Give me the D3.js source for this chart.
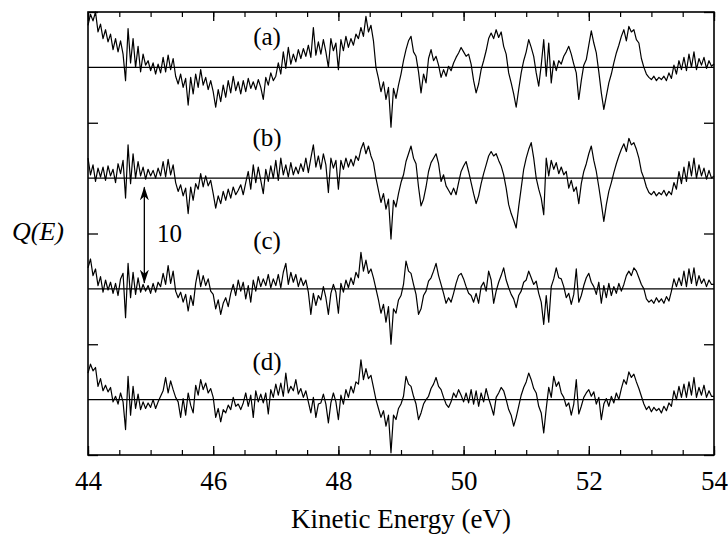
<!DOCTYPE html>
<html><head><meta charset="utf-8">
<script src="https://cdn.jsdelivr.net/npm/d3@7"></script>
<style>
body{margin:0;background:#fff}
svg{display:block}
svg text{font-family:"Liberation Serif","Times New Roman",Tinos,Times;fill:#000}
</style>
</head><body>
<svg id="chart" width="728" height="535"></svg>
<script>
// Energy grid: 44.00 .. 54.00 eV in 0.04 eV steps (251 samples); one row = 1 eV
const energyStart = 44, energyStep = 0.04;
const traceA = [
3.8,4.8,4.2,5.0,3.2,3.9,2.6,3.4,2.3,3.0,1.6,2.6,1.4,2.4,1.2,-1.2,3.5,0.4,2.6,0.0,1.9,-0.4,1.2,0.2,0.6,
-0.3,0.4,-0.6,0.3,-0.5,0.9,-0.4,1.1,-0.2,0.8,-0.8,-1.5,-0.6,-1.8,-1.0,-3.4,-0.9,-2.4,-0.6,-1.8,-0.2,-1.6,-0.9,-2.0,-1.2,
-2.2,-3.6,-2.0,-3.1,-1.6,-2.7,-1.2,-2.3,-0.8,-2.1,-1.3,-2.4,-1.2,-2.2,-1.0,-1.9,-1.3,-2.0,-1.1,-1.8,-2.9,-0.9,-1.6,-0.5,-1.2,
-0.8,0.4,-0.6,1.4,-0.1,1.8,0.3,1.2,0.5,1.6,0.8,1.7,1.0,2.0,0.9,3.6,1.1,2.3,1.2,2.5,1.4,0.0,2.6,1.5,2.2,
-0.2,2.5,1.5,2.8,1.8,2.6,2.0,3.0,2.6,3.6,2.8,4.6,3.2,3.8,2.4,0.0,-1.0,-2.2,-1.3,-2.9,-1.8,-5.4,-1.9,-2.8,-1.6,
-0.6,0.6,1.6,2.4,2.8,1.4,1.0,-0.4,-2.3,-0.6,-1.4,0.8,1.6,0.6,1.0,0.2,-0.9,-0.2,-0.8,0.1,-0.3,0.4,0.9,1.3,1.8,
1.4,1.0,1.2,0.3,-1.2,-2.3,-1.5,-0.2,0.6,1.5,2.6,3.1,2.6,3.4,2.7,3.2,1.9,1.2,-0.5,-1.4,-2.4,-3.6,-2.0,-0.5,0.6,
1.4,2.5,1.8,1.0,-0.5,-1.7,0.2,2.5,-0.8,2.2,-1.4,0.6,-0.3,0.6,0.3,1.0,1.4,1.9,1.2,0.3,-0.5,-2.9,-1.2,0.2,0.7,
2.0,3.3,2.2,1.3,-0.4,-2.3,-3.8,-2.6,-1.4,-0.6,0.4,1.3,2.0,2.8,3.4,2.4,3.7,3.2,3.4,2.5,2.2,0.8,0.0,-0.6,-0.9,
-1.1,-0.8,-1.2,-0.9,-1.1,-0.8,-1.2,-0.5,-1.0,0.2,-0.6,0.6,-0.2,0.9,-0.3,1.2,0.0,1.4,-0.2,0.8,0.2,0.9,-0.1,0.6,0.1,
0.3];
const traceB = [
1.8,0.3,1.2,-0.3,0.9,0.1,1.0,-0.2,1.1,0.2,0.8,-0.4,1.3,0.4,1.6,-1.8,3.0,-0.5,2.2,0.0,1.5,0.2,1.0,-0.1,0.8,
0.2,0.7,0.0,0.9,0.2,1.5,0.1,1.7,0.3,1.2,-0.4,-1.2,-0.6,-1.6,-0.9,-3.2,-0.8,-2.0,-0.5,-1.0,0.4,-0.8,0.2,-0.7,-0.2,
-1.4,-2.7,-1.6,-2.3,-1.2,-2.0,-1.0,-1.8,-0.8,-1.5,-1.1,-0.6,-1.5,-0.4,0.6,-1.0,1.2,-0.4,1.0,-0.2,-1.4,0.8,-0.3,1.1,0.0,
1.6,-0.2,1.8,0.3,1.2,0.1,1.4,0.3,1.0,0.4,1.3,0.6,1.8,0.5,1.8,3.0,1.0,2.0,0.8,2.2,1.2,-1.3,1.8,0.9,1.6,
-1.0,1.6,0.8,1.8,1.0,1.7,1.1,2.0,1.6,2.6,3.2,2.2,2.9,2.0,1.4,0.0,-1.1,-2.2,-1.4,-2.8,-1.9,-5.5,-2.0,-2.6,-1.4,
-0.4,0.3,1.5,2.2,2.9,1.8,1.3,-0.8,-2.5,-1.9,-0.8,0.6,1.4,1.8,2.2,1.3,-0.3,0.3,-0.7,-1.1,-1.5,-0.9,-1.5,-0.4,0.6,
1.1,1.5,0.6,-0.4,-1.4,-2.3,-1.6,-0.5,0.4,1.2,2.0,2.4,2.0,2.2,1.6,1.1,0.3,-0.9,-2.4,-3.2,-3.8,-4.5,-2.6,-0.9,0.8,
1.8,2.6,3.2,1.8,0.0,-1.0,-1.8,-3.3,1.8,0.2,1.6,0.8,1.4,0.4,1.0,0.3,0.6,-0.9,-0.2,-1.2,-0.8,-2.3,-0.5,0.6,1.3,
2.2,2.9,1.6,0.6,-0.8,-2.3,-3.9,-2.4,-1.2,-0.4,0.5,1.3,2.0,2.6,3.1,2.4,3.6,3.0,3.2,2.6,1.8,0.6,0.0,-0.8,-1.3,
-1.5,-1.2,-1.6,-1.3,-1.5,-1.1,-1.6,-1.2,-1.5,-0.4,-1.0,0.6,-0.5,1.0,-0.3,1.5,0.2,1.8,0.0,1.2,0.2,0.9,-0.1,0.7,0.0,
0.2];
const traceC = [
1.9,2.7,1.2,1.8,0.3,1.1,-0.3,0.8,-0.1,0.6,-0.4,0.5,-0.6,0.9,1.4,-2.6,2.3,-0.8,1.5,-0.5,1.0,-0.3,0.4,-0.2,0.3,
-0.4,0.5,-0.3,0.6,0.2,1.4,0.4,2.1,0.5,1.6,-0.2,-0.8,-0.3,-1.2,-0.5,-2.0,-0.6,-1.5,0.5,1.7,0.2,1.2,0.3,0.9,-0.2,
-0.5,-1.8,-1.0,-2.3,-1.3,-0.8,-1.6,-0.4,0.4,-0.6,0.8,-0.2,0.6,-0.9,0.3,-1.2,0.8,-0.2,1.1,0.2,0.9,0.3,1.3,0.1,0.9,
0.3,1.3,0.1,1.5,2.3,0.4,1.5,0.6,1.3,0.2,1.0,0.3,0.8,-0.3,-2.3,-0.4,-1.5,-0.6,-1.0,0.2,-0.8,-2.3,-0.4,0.4,-0.3,
-2.2,0.5,-0.3,0.8,0.1,1.0,0.4,1.5,1.0,3.3,1.6,2.6,1.4,1.8,1.0,0.0,-1.0,-2.2,-1.4,-3.0,-1.6,-5.0,-1.8,-2.2,-1.0,
-0.6,0.4,2.5,1.6,1.4,0.4,-0.5,-2.3,-1.8,-0.6,-0.2,0.7,1.0,1.6,2.3,1.2,0.4,-0.4,-1.3,-0.8,-1.2,-0.4,0.5,1.2,1.4,
0.9,0.2,-0.4,-0.6,-1.2,-0.4,-1.3,0.2,0.6,-0.2,1.6,0.8,-1.3,-0.2,0.6,1.2,1.9,0.8,0.1,-0.5,-0.9,-1.7,-0.6,-0.2,0.6,
0.8,1.6,1.0,0.4,0.7,-0.4,-1.2,-3.2,-0.6,-3.0,0.2,0.9,1.9,1.0,0.9,0.2,-0.8,-0.4,-1.4,-0.5,1.8,-1.2,-0.6,0.3,1.0,
1.4,0.6,0.2,-0.5,0.6,-1.3,0.3,-0.8,0.5,-0.6,0.2,-0.4,0.5,-0.2,0.4,1.2,1.6,1.2,1.9,1.6,1.0,0.4,0.0,-0.9,-1.2,
-1.0,-1.3,-0.8,-1.2,-0.9,-1.3,-0.7,-1.1,-0.2,0.9,0.2,1.0,0.3,1.6,0.2,1.8,0.5,1.9,0.3,1.2,0.5,0.9,0.2,0.8,0.4,
0.4];
const traceD = [
2.4,3.2,2.6,2.9,1.2,1.9,0.8,1.3,0.7,1.1,-0.2,0.3,-0.4,0.6,-0.2,-2.7,2.1,-1.4,1.2,-0.8,0.5,-0.9,-0.2,-0.8,-0.3,
-0.7,0.0,-0.8,-0.2,0.3,0.8,2.0,0.6,1.7,0.9,0.2,-0.2,-1.6,0.1,-1.4,0.6,-0.5,-1.2,1.3,0.4,1.8,0.9,1.5,0.6,1.0,
0.2,-1.6,-0.8,-2.0,-0.9,-1.2,-0.5,-0.9,0.2,-0.6,-0.4,-0.9,-0.3,0.6,-0.6,0.4,-1.6,0.8,-0.2,0.5,-0.3,0.6,-1.3,0.9,0.2,
1.4,0.4,1.5,0.3,2.4,0.6,1.2,0.8,1.8,0.5,1.0,0.2,0.8,-0.2,-1.2,0.2,-1.6,-0.4,-0.3,0.5,-0.4,-2.1,-0.3,0.6,-0.2,
-1.8,0.4,-0.4,0.9,0.2,1.2,0.6,1.6,1.4,3.6,1.8,2.8,1.9,2.2,1.1,0.0,-0.8,-1.6,-1.0,-2.4,-1.4,-4.8,-1.4,-1.8,-0.8,
-0.4,0.3,2.1,1.4,1.2,0.3,-0.4,-1.8,-1.2,-0.4,0.0,0.3,1.0,1.4,2.0,1.2,0.9,0.2,-0.4,-0.7,-0.2,0.6,0.2,0.9,0.4,
-0.2,0.6,-0.3,0.9,-0.4,0.8,-0.6,0.6,-0.2,1.0,0.1,-0.6,-1.4,0.2,0.6,1.1,0.8,0.0,-0.9,-1.4,-2.4,-1.6,-0.6,0.4,1.1,
1.6,2.4,1.8,1.0,0.6,-0.6,-1.2,-3.0,-0.8,1.1,0.2,2.1,1.2,1.6,0.6,0.2,-0.6,-0.3,-1.4,-0.4,1.8,-1.3,-0.6,0.2,0.6,
0.9,0.3,0.7,-0.4,0.2,-1.8,-0.4,0.1,-0.6,0.3,-0.3,0.6,0.0,1.0,1.8,1.4,2.5,2.0,2.3,1.6,1.0,0.3,-0.4,-0.9,-0.6,
-1.1,-0.7,-1.0,-0.8,-1.2,-0.6,-1.0,-0.3,-0.6,0.8,0.0,1.2,0.2,1.4,0.2,1.6,0.4,2.0,0.2,1.1,0.4,1.3,0.2,0.8,0.3,
0.3];
const seriesNames = ["(a)", "(b)", "(c)", "(d)"];
const seriesOffsets = [30, 20, 10, 0];
const xMajorTicks = [44, 46, 48, 50, 52, 54];
const xMinorTicks = d3.range(44, 54.001, 0.5);
const yTicks = [-5, 5, 15, 25, 35];
const arrowSpan = [10, 20];
const arrowLabel = "10";

const svg = d3.select("#chart");
const L = 88, R = 714, T = 12, B = 455;
const x = d3.scaleLinear().domain([44, 54]).range([L, R]);
const y = d3.scaleLinear().domain([-5, 35]).range([B, T]);
const FONT = '"Liberation Serif","Times New Roman",Tinos,Times';

const traces = [traceA, traceB, traceC, traceD];
const line = d3.line().x(d => x(d[0])).y(d => y(d[1]));

// baselines
svg.append("g").selectAll("line").data(seriesOffsets).join("line")
  .attr("x1", L).attr("x2", R).attr("y1", d => y(d)).attr("y2", d => y(d))
  .attr("stroke", "#000").attr("stroke-width", 1.1);

// traces
traces.forEach((tr, i) => {
  const pts = tr.map((v, k) => [energyStart + k * energyStep, v + seriesOffsets[i]]);
  svg.append("path").datum(pts).attr("d", line)
    .attr("fill", "none").attr("stroke", "#000").attr("stroke-width", 1.2)
    .attr("stroke-linejoin", "round");
});

// frame
svg.append("rect").attr("x", L).attr("y", T).attr("width", R - L).attr("height", B - T)
  .attr("fill", "none").attr("stroke", "#000").attr("stroke-width", 1.6);

// bottom axis: labels + major ticks
const axB = svg.append("g").attr("transform", `translate(0,${B})`)
  .call(d3.axisBottom(x).tickValues(xMajorTicks).tickSizeInner(-9).tickSizeOuter(0).tickPadding(16).tickFormat(d3.format("d")));
axB.select(".domain").remove();
axB.selectAll("text").style("font-family", FONT).style("font-size", "27px");
axB.selectAll("line").attr("stroke-width", 1.3);
svg.append("g").attr("transform", `translate(0,${B})`)
  .call(d3.axisBottom(x).tickValues(xMinorTicks).tickSizeInner(-5).tickSizeOuter(0).tickFormat(""))
  .call(g => g.select(".domain").remove()).selectAll("line").attr("stroke-width", 1.2);
// top axis
svg.append("g").attr("transform", `translate(0,${T})`)
  .call(d3.axisTop(x).tickValues(xMajorTicks).tickSizeInner(-9).tickSizeOuter(0).tickFormat(""))
  .call(g => g.select(".domain").remove()).selectAll("line").attr("stroke-width", 1.3);
svg.append("g").attr("transform", `translate(0,${T})`)
  .call(d3.axisTop(x).tickValues(xMinorTicks).tickSizeInner(-5).tickSizeOuter(0).tickFormat(""))
  .call(g => g.select(".domain").remove()).selectAll("line").attr("stroke-width", 1.2);
// left and right axes
svg.append("g").attr("transform", `translate(${L},0)`)
  .call(d3.axisLeft(y).tickValues(yTicks).tickSizeInner(-10).tickSizeOuter(0).tickFormat(""))
  .call(g => g.select(".domain").remove()).selectAll("line").attr("stroke-width", 1.3);
svg.append("g").attr("transform", `translate(${R},0)`)
  .call(d3.axisRight(y).tickValues(yTicks).tickSizeInner(-10).tickSizeOuter(0).tickFormat(""))
  .call(g => g.select(".domain").remove()).selectAll("line").attr("stroke-width", 1.3);

// series labels
const labelY = [45, 146, 249, 370];
svg.append("g").selectAll("text").data(seriesNames).join("text")
  .attr("x", 267).attr("y", (d, i) => labelY[i]).attr("text-anchor", "middle")
  .style("font-family", FONT).style("font-size", "25px").text(d => d);

// arrow
const defs = svg.append("defs");
defs.append("marker").attr("id", "ah").attr("viewBox", "0 0 10 10").attr("refX", 9.5).attr("refY", 5)
  .attr("markerWidth", 14).attr("markerHeight", 9).attr("markerUnits", "userSpaceOnUse").attr("orient", "auto-start-reverse")
  .attr("preserveAspectRatio", "none")
  .append("path").attr("d", "M0,0 L10,5 L0,10 L3,5 Z").attr("fill", "#000");
const ax = x(44.9);
svg.append("line").attr("x1", ax).attr("x2", ax)
  .attr("y1", y(arrowSpan[1]) + 9).attr("y2", y(arrowSpan[0]) - 6)
  .attr("stroke", "#000").attr("stroke-width", 1.3)
  .attr("marker-start", "url(#ah)").attr("marker-end", "url(#ah)");
svg.append("text").attr("x", 157).attr("y", 242)
  .style("font-family", FONT).style("font-size", "25px").text(arrowLabel);

// axis titles
svg.append("text").attr("x", 38).attr("y", 240).attr("text-anchor", "middle")
  .style("font-family", FONT).style("font-style", "italic").style("font-size", "26px").text("Q(E)");
svg.append("text").attr("x", 401).attr("y", 528).attr("text-anchor", "middle")
  .style("font-family", FONT).style("font-size", "27px").text("Kinetic Energy (eV)");
</script>
</body></html>
